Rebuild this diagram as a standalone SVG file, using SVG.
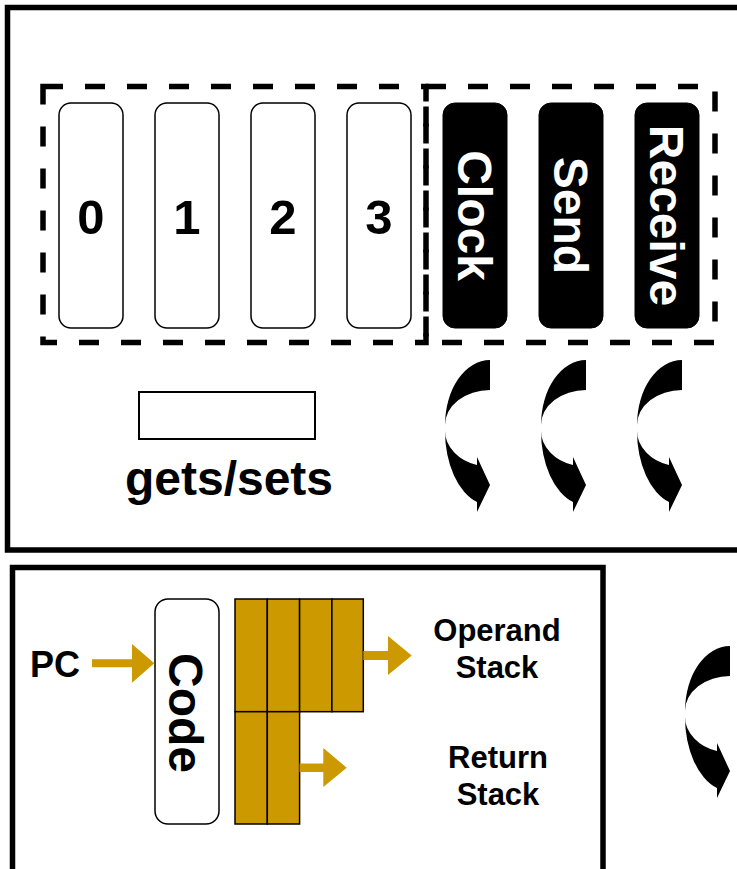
<svg xmlns="http://www.w3.org/2000/svg" width="737" height="869" viewBox="0 0 737 869">
<style>
  .frame{fill:none;stroke:#000;stroke-width:5.5}
  .dash{fill:none;stroke:#000;stroke-width:5.5;stroke-dasharray:20 22}
  .wbox{fill:#fff;stroke:#000;stroke-width:1.5}
  .bbox{fill:#000;stroke:#000;stroke-width:1}
  .t{font-family:"Liberation Sans",Arial,Helvetica,sans-serif;font-weight:bold;text-anchor:middle}
  .big{font-size:48px}
  .dig{font-size:49px;fill:#000}
  .wt{fill:#fff}
  .mid{font-size:31px;fill:#000}
  .cell{fill:#CC9900;stroke:#000;stroke-width:1.5}
  .gold{fill:#CC9900}
  .curve{fill:#000}
</style>
<defs>
  <g id="curvedArrow">
    <path d="M45,-68 A45,65 0 0 0 0,-3 A45,35 0 0 1 45,-38 Z"/>
    <path d="M0,3 A45,74 0 0 0 32,74 L32,84 L45,57 L32,29 L32,37 A45,36 0 0 1 0,3 Z"/>
  </g>
</defs>
<rect width="737" height="869" fill="#fff"/>

<g id="frame-top"><rect class="frame" x="7.5" y="7.5" width="800" height="542.5"/></g>
<g id="frame-bottom"><rect class="frame" x="12.5" y="567.5" width="590.5" height="400"/></g>

<g id="group-registers"><rect class="dash" x="43" y="86.5" width="383" height="256"/></g>
<g id="group-devices"><rect class="dash" x="426" y="86.5" width="289" height="256"/></g>

<g id="reg0"><rect class="wbox" x="59" y="103" width="64" height="225" rx="12"/><text class="t dig" x="91" y="234">0</text></g>
<g id="reg1"><rect class="wbox" x="155" y="103" width="64" height="225" rx="12"/><text class="t dig" x="187" y="234">1</text></g>
<g id="reg2"><rect class="wbox" x="251" y="103" width="64" height="225" rx="12"/><text class="t dig" x="283" y="234">2</text></g>
<g id="reg3"><rect class="wbox" x="347" y="103" width="64" height="225" rx="12"/><text class="t dig" x="379" y="234">3</text></g>

<g id="clock"><rect class="bbox" x="443" y="103" width="64" height="225" rx="12"/><text class="t big wt" transform="translate(475,215.5) rotate(90)" x="0" y="17">Clock</text></g>
<g id="send"><rect class="bbox" x="539" y="103" width="64" height="225" rx="12"/><text class="t big wt" transform="translate(571,215.5) rotate(90)" x="0" y="17">Send</text></g>
<g id="receive"><rect class="bbox" x="635" y="103" width="64" height="225" rx="12"/><text class="t big wt" transform="translate(667,215.5) rotate(90)" x="0" y="17">Receive</text></g>

<g id="getsets"><rect fill="#fff" stroke="#000" stroke-width="2" x="139" y="392" width="176" height="47"/><text class="t big" x="229" y="495">gets/sets</text></g>

<g id="pc"><text class="t" style="font-size:36px;text-anchor:start" x="30" y="677">PC</text></g>

<g id="code"><rect class="wbox" x="155" y="599" width="64" height="225" rx="13"/><text class="t big" transform="translate(186,713) rotate(90)" x="0" y="17">Code</text></g>

<g id="operand-stack">
  <rect class="cell" x="235" y="599" width="32.3" height="112.7"/>
  <rect class="cell" x="267.3" y="599" width="32.3" height="112.7"/>
  <rect class="cell" x="299.6" y="599" width="32.3" height="112.7"/>
  <rect class="cell" x="331.9" y="599" width="31.4" height="112.7"/>
  <text class="t mid" x="497" y="641">Operand</text>
  <text class="t mid" x="497" y="678">Stack</text>
</g>
<g id="return-stack">
  <rect class="cell" x="235" y="711.7" width="32.3" height="112.3"/>
  <rect class="cell" x="267.3" y="711.7" width="32.3" height="112.3"/>
  <text class="t mid" x="498" y="768">Return</text>
  <text class="t mid" x="498" y="805">Stack</text>
</g>

<g id="connectors">
  <polygon class="gold" points="92,659.3 132,659.3 132,644 154.3,663.3 132,682.7 132,667.3 92,667.3"/>
  <polygon class="gold" points="363.3,651 388,651 388,636 411.7,655.5 388,675 388,660 363.3,660"/>
  <polygon class="gold" points="299.6,763.5 323.3,763.5 323.3,748 346.7,767.7 323.3,787 323.3,772 299.6,772"/>
  <g class="curve">
    <use href="#curvedArrow" transform="translate(445,428)"/>
    <use href="#curvedArrow" transform="translate(541,428)"/>
    <use href="#curvedArrow" transform="translate(637,428)"/>
    <use href="#curvedArrow" transform="translate(685,714)"/>
  </g>
</g>
</svg>
